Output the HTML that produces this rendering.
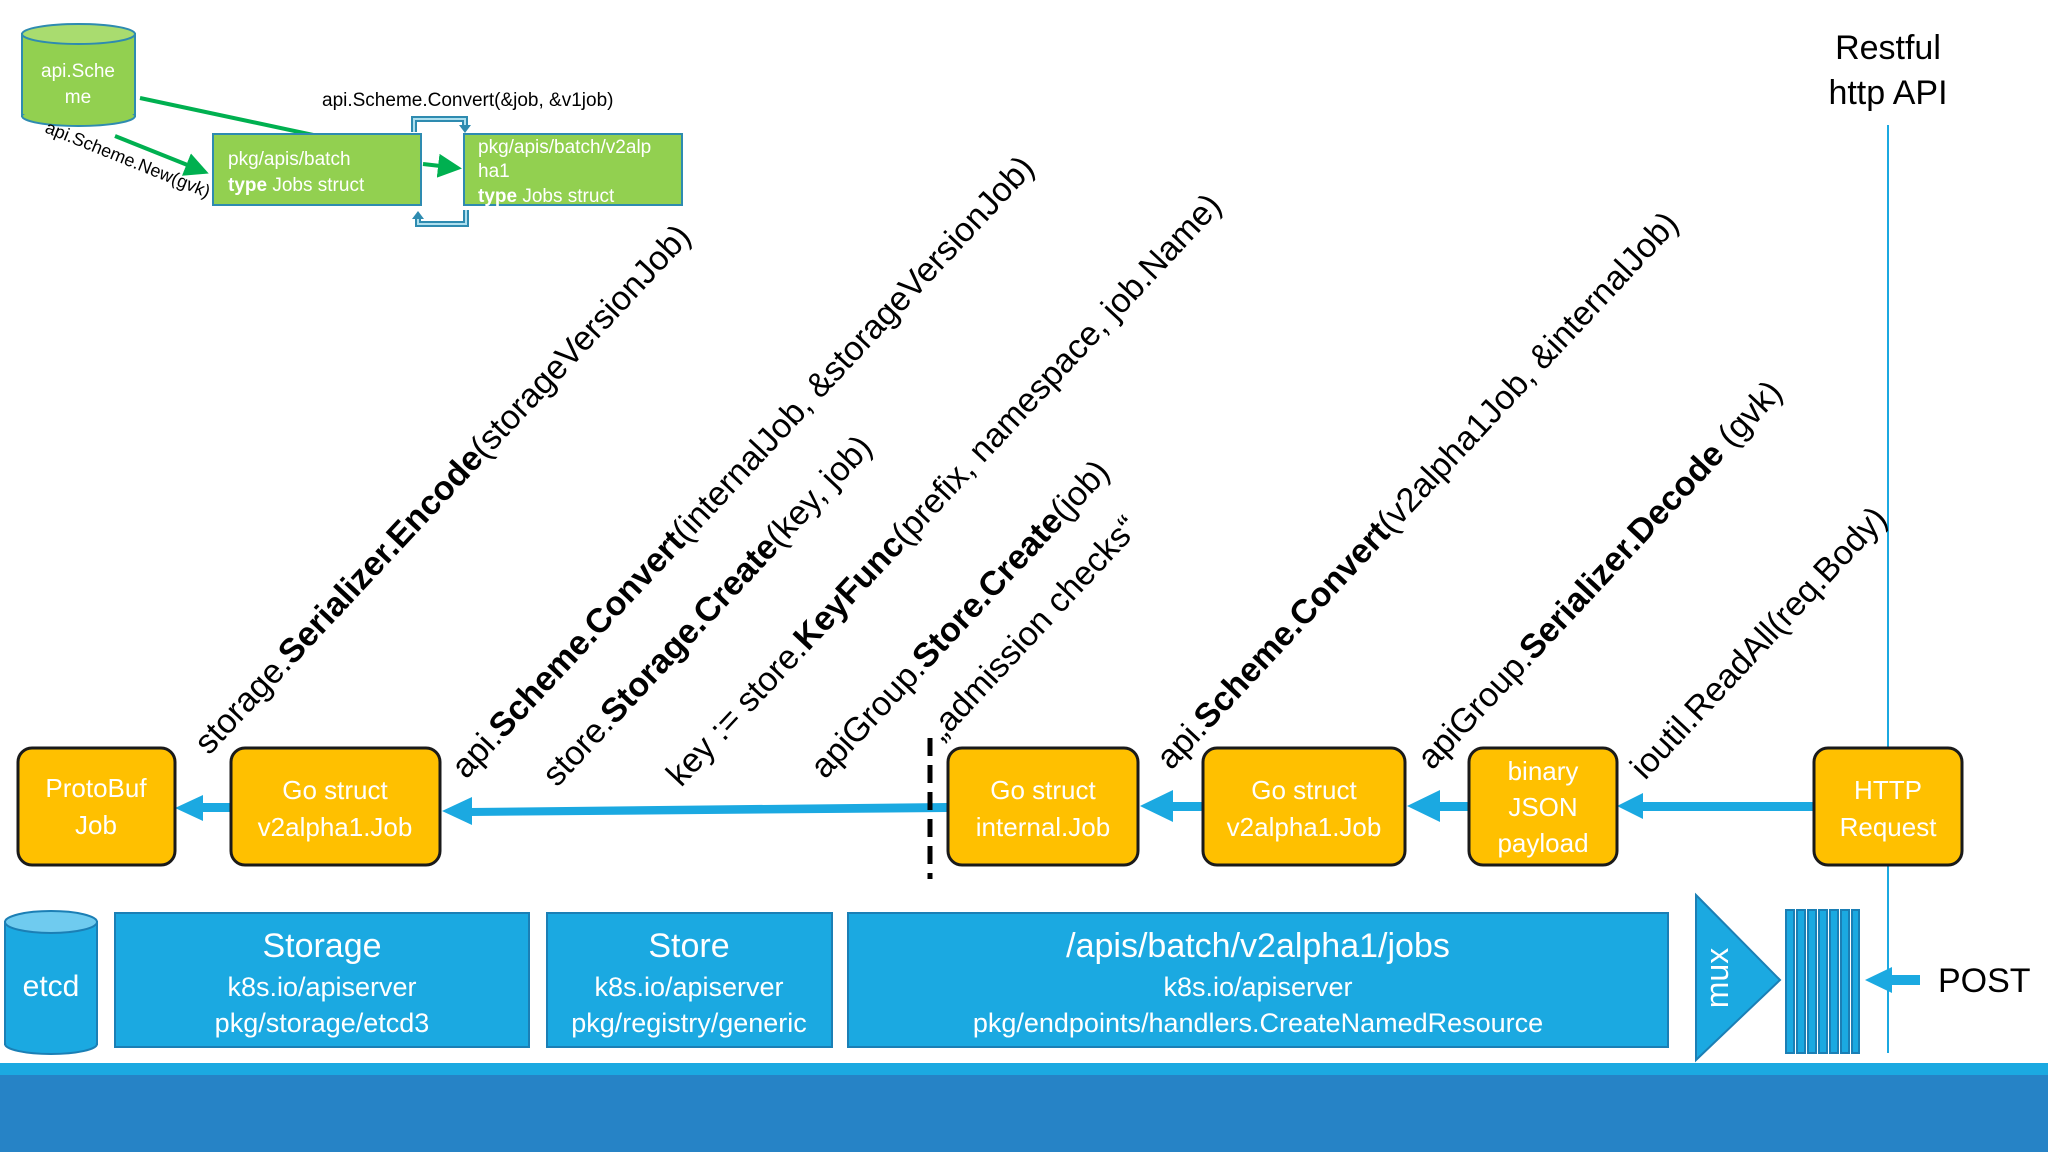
<!DOCTYPE html>
<html><head><meta charset="utf-8"><style>
html,body{margin:0;padding:0;background:#fff;}
svg{display:block;font-family:"Liberation Sans",sans-serif;}
.w{fill:#fff;}
.lab{font-size:34px;fill:#000;}
.b{font-weight:bold;}
</style></head><body>
<svg width="2048" height="1152" viewBox="0 0 2048 1152" xmlns="http://www.w3.org/2000/svg">
<defs>
<marker id="ga" markerWidth="6" markerHeight="6" refX="5" refY="3" orient="auto" markerUnits="strokeWidth"><path d="M0,0 L6,3 L0,6 z" fill="#00b050"/></marker>
</defs>
<rect x="0" y="1063" width="2048" height="12" fill="#1ba9e1"/>
<rect x="0" y="1075" width="2048" height="77" fill="#2683c6"/>

<path d="M140,98 L318,136" stroke="#00b050" stroke-width="4"/>
<path d="M115,136 L205,172" stroke="#00b050" stroke-width="4" marker-end="url(#ga)"/>
<path d="M423,164 L458,168" stroke="#00b050" stroke-width="4" marker-end="url(#ga)"/>
<rect x="22" y="34" width="113" height="82" fill="#92d050" stroke="#2e8bb0" stroke-width="2"/>
<ellipse cx="78.5" cy="116" rx="56.5" ry="10" fill="#92d050" stroke="#2e8bb0" stroke-width="2"/>
<rect x="23" y="34" width="111" height="80" fill="#92d050"/>
<ellipse cx="78.5" cy="34" rx="56.5" ry="10" fill="#a9dc6f" stroke="#2e8bb0" stroke-width="2"/>
<text x="78" y="77" class="w" font-size="19" text-anchor="middle">api.Sche</text>
<text x="78" y="103" class="w" font-size="19" text-anchor="middle">me</text>
<text x="44" y="132" font-size="18" transform="rotate(22 44 132)">api.Scheme.New(gvk)</text>
<text x="322" y="106" font-size="19">api.Scheme.Convert(&amp;job, &amp;v1job)</text>
<rect x="213" y="134" width="208" height="71" fill="#92d050" stroke="#2e8bb0" stroke-width="2"/>
<text x="228" y="165" class="w" font-size="19">pkg/apis/batch</text>
<text x="228" y="191" class="w" font-size="19"><tspan class="b">type</tspan> Jobs struct</text>
<rect x="464" y="134" width="218" height="71" fill="#92d050" stroke="#2e8bb0" stroke-width="2"/>
<text x="478" y="153" class="w" font-size="19">pkg/apis/batch/v2alp</text>
<text x="478" y="177" class="w" font-size="19">ha1</text>
<text x="478" y="202" class="w" font-size="19"><tspan class="b">type</tspan> Jobs struct</text>
<path d="M414,132 L414,119 L465,119 L465,128" fill="none" stroke="#2e8bb0" stroke-width="6"/>
<path d="M414,132 L414,119 L465,119 L465,128" fill="none" stroke="#aee0ef" stroke-width="2"/>
<path d="M459,125 L465,133 L471,125z" fill="#2e8bb0"/>
<path d="M466,210 L466,224 L418,224 L418,216" fill="none" stroke="#2e8bb0" stroke-width="6"/>
<path d="M466,210 L466,224 L418,224 L418,216" fill="none" stroke="#aee0ef" stroke-width="2"/>
<path d="M412,219 L418,211 L424,219z" fill="#2e8bb0"/>

<text x="1888" y="59" font-size="34" text-anchor="middle">Restful</text>
<text x="1888" y="104" font-size="34" text-anchor="middle">http API</text>
<line x1="1888" y1="125" x2="1888" y2="1053" stroke="#1ba9e1" stroke-width="2"/>

<g class="lab">
<text transform="translate(209,756) rotate(-47)">storage.<tspan class="b">Serializer.Encode</tspan>(storageVersionJob)</text>
<text transform="translate(466,780) rotate(-47)">api.<tspan class="b">Scheme.Convert</tspan>(internalJob, &amp;storageVersionJob)</text>
<text transform="translate(557,788) rotate(-47)">store.<tspan class="b">Storage.Create</tspan>(key, job)</text>
<text transform="translate(681,788) rotate(-47)">key := store.<tspan class="b">KeyFunc</tspan>(prefix, namespace, job.Name)</text>
<text transform="translate(825,780) rotate(-47)">apiGroup.<tspan class="b">Store.Create</tspan>(job)</text>
<text transform="translate(942,742) rotate(-47)">„admission checks“</text>
<text transform="translate(1171,771) rotate(-47)">api.<tspan class="b">Scheme.Convert</tspan>(v2alpha1Job, &amp;internalJob)</text>
<text transform="translate(1432,771) rotate(-47)">apiGroup.<tspan class="b">Serializer.Decode</tspan> (gvk)</text>
<text transform="translate(1645,781) rotate(-47)">ioutil.ReadAll(req.Body)</text>
</g>

<g fill="#1ba9e1">
<rect x="1640" y="802" width="175" height="9"/><path d="M1617,806 L1643,793 L1643,819z"/>
<rect x="1440" y="802" width="30" height="9"/><path d="M1407,806 L1440,790 L1440,822z"/>
<rect x="1170" y="802" width="35" height="9"/><path d="M1140,806 L1173,790 L1173,822z"/>
<path d="M470,808 L948,803 L948,812 L470,816z"/><path d="M442,811 L472,797 L472,825z"/>
<rect x="200" y="803" width="32" height="9"/><path d="M175,808 L203,795 L203,821z"/>
<path d="M1865,980 L1892,967 L1892,993z"/><rect x="1890" y="975" width="30" height="10"/>
</g>
<line x1="930" y1="738" x2="930" y2="879" stroke="#000" stroke-width="5" stroke-dasharray="18,9"/>

<g stroke="#1a1a1a" stroke-width="3" fill="#ffc000">
<rect x="18" y="748" width="157" height="117" rx="14"/>
<rect x="231" y="748" width="209" height="117" rx="14"/>
<rect x="948" y="748" width="190" height="117" rx="14"/>
<rect x="1203" y="748" width="202" height="117" rx="14"/>
<rect x="1469" y="748" width="148" height="117" rx="14"/>
<rect x="1814" y="748" width="148" height="117" rx="14"/>
</g>
<g class="w" font-size="26" text-anchor="middle">
<text x="96" y="797">ProtoBuf</text><text x="96" y="834">Job</text>
<text x="335" y="799">Go struct</text><text x="335" y="836">v2alpha1.Job</text>
<text x="1043" y="799">Go struct</text><text x="1043" y="836">internal.Job</text>
<text x="1304" y="799">Go struct</text><text x="1304" y="836">v2alpha1.Job</text>
<text x="1543" y="780">binary</text><text x="1543" y="816">JSON</text><text x="1543" y="852">payload</text>
<text x="1888" y="799">HTTP</text><text x="1888" y="836">Request</text>
</g>

<rect x="5" y="922" width="92" height="122" fill="#1ba9e1" stroke="#1b7fb5" stroke-width="2"/>
<ellipse cx="51" cy="1044" rx="46" ry="10" fill="#1ba9e1" stroke="#1b7fb5" stroke-width="2"/>
<rect x="6" y="922" width="90" height="121" fill="#1ba9e1"/>
<ellipse cx="51" cy="922" rx="46" ry="11" fill="#6fcbef" stroke="#1b7fb5" stroke-width="2"/>
<text x="51" y="996" class="w" font-size="30" text-anchor="middle">etcd</text>
<g fill="#1ba9e1" stroke="#1b7fb5" stroke-width="2">
<rect x="115" y="913" width="414" height="134"/>
<rect x="547" y="913" width="285" height="134"/>
<rect x="848" y="913" width="820" height="134"/>
<path d="M1696,895 L1780,980 L1696,1060z"/>
<rect x="1786" y="910" width="8" height="143"/>
<rect x="1797" y="910" width="8" height="143"/>
<rect x="1808" y="910" width="8" height="143"/>
<rect x="1819" y="910" width="8" height="143"/>
<rect x="1830" y="910" width="8" height="143"/>
<rect x="1841" y="910" width="8" height="143"/>
<rect x="1852" y="910" width="7" height="143"/>
</g>
<g class="w" text-anchor="middle">
<text x="322" y="957" font-size="34">Storage</text>
<text x="322" y="996" font-size="27">k8s.io/apiserver</text>
<text x="322" y="1032" font-size="27">pkg/storage/etcd3</text>
<text x="689" y="957" font-size="34">Store</text>
<text x="689" y="996" font-size="27">k8s.io/apiserver</text>
<text x="689" y="1032" font-size="27">pkg/registry/generic</text>
<text x="1258" y="957" font-size="34">/apis/batch/v2alpha1/jobs</text>
<text x="1258" y="996" font-size="27">k8s.io/apiserver</text>
<text x="1258" y="1032" font-size="27">pkg/endpoints/handlers.CreateNamedResource</text>
<text transform="translate(1728,978) rotate(-90)" font-size="32" dy="0">mux</text>
</g>
<text x="1938" y="992" font-size="34">POST</text>
</svg>
</body></html>
